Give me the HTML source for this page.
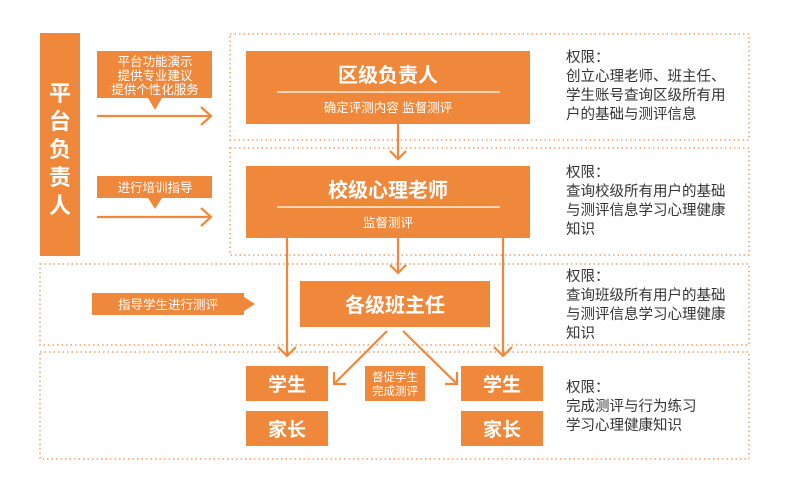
<!DOCTYPE html>
<html><head><meta charset="utf-8"><style>
body{margin:0;background:#fff;}
svg text{font-family:"Liberation Sans","Noto Sans CJK SC",sans-serif;}
</style></head><body>
<svg width="788" height="498" viewBox="0 0 788 498" xmlns="http://www.w3.org/2000/svg">
<g fill="none" stroke="#f0a068" stroke-width="1.5" stroke-dasharray="1.5 3">
<rect x="230" y="34" width="519" height="106"/>
<rect x="230" y="148" width="519" height="107"/>
<rect x="40" y="264" width="709" height="81"/>
<rect x="40" y="352" width="709" height="107"/>
</g>
<g fill="#f0883c">
<rect x="40" y="33" width="40" height="223"/>
<rect x="97" y="51" width="115" height="47"/>
<polygon points="148,98 162,98 155,110"/>
<rect x="97" y="176" width="115" height="22"/>
<polygon points="148,198 162,198 155,209"/>
<rect x="92" y="293" width="152" height="22"/>
<polygon points="244,297 244,311 255,304"/>
<rect x="246" y="51" width="284" height="73"/>
<rect x="246" y="166" width="284" height="72"/>
<rect x="300" y="281" width="190" height="46"/>
<rect x="246" y="366" width="82" height="35"/>
<rect x="246" y="411" width="82" height="35"/>
<rect x="461" y="366" width="82" height="35"/>
<rect x="461" y="411" width="82" height="35"/>
<rect x="365" y="366" width="60" height="35"/>
</g>
<g stroke="#fff" stroke-width="1.2"><line x1="277" y1="92" x2="500" y2="92"/><line x1="277" y1="207" x2="500" y2="207"/></g>
<g stroke="#f0883c" stroke-width="2.2" fill="none">
<line x1="97" y1="116" x2="210" y2="116"/><polyline points="201,107 211,116 201,125"/>
<line x1="97" y1="217" x2="210" y2="217"/><polyline points="201,208 211,217 201,226"/>
<line x1="398" y1="124" x2="398" y2="159"/><polyline points="390,151 398,159 406,151"/>
<line x1="398" y1="238" x2="398" y2="273"/><polyline points="390,265 398,273 406,265"/>
<line x1="287" y1="238" x2="287" y2="356"/><polyline points="278,347 287,356 296,347"/>
<line x1="503" y1="238" x2="503" y2="356"/><polyline points="494,347 503,356 512,347"/>
<line x1="387" y1="331" x2="334" y2="384"/><polyline points="334,372 334,384 346,384"/>
<line x1="403" y1="331" x2="457" y2="384"/><polyline points="457,372 457,384 445,384"/>
</g>
<g fill="#fff" text-anchor="middle">
<text x="60" y="101" font-size="22" font-weight="bold">平</text>
<text x="60" y="129" font-size="22" font-weight="bold">台</text>
<text x="60" y="157" font-size="22" font-weight="bold">负</text>
<text x="60" y="185" font-size="22" font-weight="bold">责</text>
<text x="60" y="213" font-size="22" font-weight="bold">人</text>
<text x="155" y="66" font-size="12.5">平台功能演示</text>
<text x="155" y="80" font-size="12.5">提供专业建议</text>
<text x="155" y="94" font-size="12.5">提供个性化服务</text>
<text x="155" y="192" font-size="12.5">进行培训指导</text>
<text x="168" y="309" font-size="12.5">指导学生进行测评</text>
<text x="388" y="82" font-size="20" font-weight="bold">区级负责人</text>
<text x="388" y="112" font-size="12.5">确定评测内容 监督测评</text>
<text x="388" y="197" font-size="20" font-weight="bold">校级心理老师</text>
<text x="388" y="227" font-size="12.5">监督测评</text>
<text x="395" y="312" font-size="20" font-weight="bold">各级班主任</text>
<text x="287" y="391" font-size="19" font-weight="bold">学生</text>
<text x="287" y="436" font-size="19" font-weight="bold">家长</text>
<text x="502" y="391" font-size="19" font-weight="bold">学生</text>
<text x="502" y="436" font-size="19" font-weight="bold">家长</text>
<text x="395" y="381" font-size="11.5">督促学生</text>
<text x="395" y="395" font-size="11.5">完成测评</text>
</g>
<g fill="#333" font-size="14.5">
<text x="566" y="62">权限：</text>
<text x="566" y="81">创立心理老师、班主任、</text>
<text x="566" y="100">学生账号查询区级所有用</text>
<text x="566" y="119">户的基础与测评信息</text>
<text x="566" y="177">权限：</text>
<text x="566" y="196">查询校级所有用户的基础</text>
<text x="566" y="215">与测评信息学习心理健康</text>
<text x="566" y="234">知识</text>
<text x="566" y="281">权限：</text>
<text x="566" y="300">查询班级所有用户的基础</text>
<text x="566" y="319">与测评信息学习心理健康</text>
<text x="566" y="338">知识</text>
<text x="566" y="392">权限：</text>
<text x="566" y="411">完成测评与行为练习</text>
<text x="566" y="430">学习心理健康知识</text>
</g>
</svg>
</body></html>
